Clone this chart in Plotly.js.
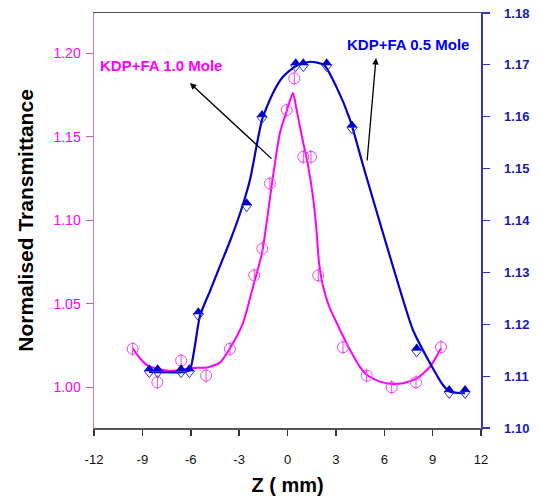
<!DOCTYPE html>
<html>
<head>
<meta charset="utf-8">
<script src="https://cdn.plot.ly/plotly-3.0.1.min.js"></script>
<style>html,body{margin:0;padding:0;background:#fff;}#chart{width:538px;height:502px;}</style>
</head>
<body>
<div id="chart"></div>
<script>
// KDP+FA 1.0 Mole (left axis) - measured points
const zMag = [-9.60,-8.07,-6.60,-5.05,-3.57,-2.06,-1.56,-1.09,-0.05,0.42,0.98,1.46,1.91,3.44,4.91,6.46,7.97,9.52];
const tMag = [1.023,1.003,1.016,1.007,1.023,1.067,1.083,1.122,1.166,1.185,1.138,1.138,1.067,1.024,1.007,1.000,1.003,1.024];
// KDP+FA 1.0 Mole - fitted curve
const zMagFit = [-9.60,-9.15,-8.65,-7.29,-5.86,-4.99,-4.19,-3.57,-2.76,-2.14,-1.58,-1.27,-0.96,-0.47,-0.03,0.34,0.59,0.90,1.27,1.58,1.77,1.95,2.20,2.57,3.26,3.88,4.50,4.93,5.74,6.48,7.16,8.03,8.84,9.52];
const tMagFit = [1.0234,1.0174,1.0128,1.0098,1.0116,1.0119,1.0148,1.0234,1.0385,1.0601,1.0804,1.1002,1.1223,1.1523,1.1660,1.1762,1.1649,1.1499,1.1331,1.1140,1.0972,1.0750,1.0606,1.0487,1.0343,1.0223,1.0121,1.0074,1.0034,1.0020,1.0024,1.0054,1.0123,1.0234];

// KDP+FA 0.5 Mole (right axis) - measured points
const zBlue = [-8.57,-8.05,-6.60,-6.09,-5.53,-2.53,-1.58,0.51,0.98,2.43,4.00,8.01,10.03,11.01];
const tBlue = [1.111,1.111,1.111,1.111,1.122,1.143,1.160,1.170,1.170,1.170,1.158,1.115,1.107,1.107];
// KDP+FA 0.5 Mole - fitted curve
const zBlueFit = [-8.59,-6.35,-6.05,-5.43,-4.81,-4.19,-3.57,-2.95,-2.33,-1.58,-0.90,-0.28,0.53,1.40,2.26,3.01,3.88,4.68,5.92,6.98,7.78,8.84,9.64,10.08,11.01];
const tBlueFit = [1.1108,1.1108,1.1112,1.1216,1.1264,1.1312,1.1360,1.1413,1.1478,1.1594,1.1646,1.1677,1.1698,1.1706,1.1700,1.1659,1.1594,1.1507,1.1376,1.1266,1.1189,1.1125,1.1083,1.1070,1.1067];

const xTicks = [-12,-9,-6,-3,0,3,6,9,12];
const leftTicks = [1.00,1.05,1.10,1.15,1.20];
const rightTicks = [1.10,1.11,1.12,1.13,1.14,1.15,1.16,1.17,1.18];

const labelMag = 'KDP+FA 1.0 Mole';
const labelBlue = 'KDP+FA 0.5 Mole';

const FONT = 'Liberation Sans, Arial, sans-serif';
const MAG = '#ff00ff';
const BLUE = '#0000cc';

const traces = [
  {x: zMagFit, y: tMagFit, type: 'scatter', mode: 'lines', yaxis: 'y',
   line: {color: MAG, width: 2, shape: 'spline', smoothing: 0.6}, hoverinfo: 'skip', showlegend: false},
  {x: zBlueFit, y: tBlueFit, type: 'scatter', mode: 'lines', yaxis: 'y2',
   line: {color: BLUE, width: 2.2, shape: 'spline', smoothing: 0.6}, hoverinfo: 'skip', showlegend: false},
  {x: zMag, y: tMag, type: 'scatter', mode: 'markers', yaxis: 'y', name: labelMag,
   marker: {symbol: 'circle-open', size: 11, color: '#ee44ee', line: {width: 1, color: '#ee44ee'}}, showlegend: false},
  {x: zMag, y: tMag, type: 'scatter', mode: 'markers', yaxis: 'y', name: labelMag,
   marker: {symbol: 'line-ns-open', size: 10, color: '#ee44ee', line: {width: 1, color: '#ee44ee'}}, showlegend: false},
  {x: zBlue, y: tBlue, type: 'scatter', mode: 'markers', yaxis: 'y2', name: labelBlue,
   marker: {symbol: 'triangle-down-open', size: 9, angle: 0, standoff: 2.25, color: '#3333dd', line: {width: 1, color: '#3333dd'}}, showlegend: false},
  {x: zBlue, y: tBlue, type: 'scatter', mode: 'markers', yaxis: 'y2', name: labelBlue,
   marker: {symbol: 'triangle-down', size: 9, angle: 180, standoff: 2.25, color: BLUE, line: {width: 0}}, showlegend: false}
];

const layout = {
  width: 538, height: 502,
  margin: {l: 94, r: 57, t: 13, b: 74},
  paper_bgcolor: '#fff', plot_bgcolor: '#fff',
  font: {family: FONT, size: 13, color: '#000'},
  showlegend: false,
  xaxis: {
    range: [-12, 12], tickvals: xTicks, ticktext: xTicks.map(String),
    showgrid: false, zeroline: false, showline: true, linecolor: '#555', linewidth: 1.5, mirror: true,
    ticks: 'outside', ticklen: 6, tickcolor: '#333', tickwidth: 1.5,
    ticklabelstandoff: 13,
    tickfont: {family: FONT, size: 13, color: '#111'},
    title: {text: 'Z ( mm)', font: {family: FONT, size: 20, color: '#000', weight: 'bold'}, standoff: 12}
  },
  yaxis: {
    range: [0.97563, 1.22413], tickvals: leftTicks, ticktext: leftTicks.map(v => v.toFixed(2)),
    showgrid: false, zeroline: false, showline: true, linecolor: '#cc77cc', linewidth: 1.5,
    ticks: 'outside', ticklen: 7, tickcolor: '#cc55cc', tickwidth: 1.2,
    ticklabelstandoff: 2,
    tickfont: {family: FONT, size: 14, color: MAG},
    title: {text: 'Normalised Transmittance', font: {family: FONT, size: 21, color: '#000', weight: 'bold'}, standoff: 14}
  },
  yaxis2: {
    overlaying: 'y', side: 'right',
    range: [1.10, 1.18], tickvals: rightTicks, ticktext: rightTicks.map(v => v.toFixed(2)),
    showgrid: false, zeroline: false, showline: true, linecolor: '#3333cc', linewidth: 1.5,
    ticks: 'outside', ticklen: 7, tickcolor: '#3333cc', tickwidth: 1.2,
    ticklabelstandoff: 12,
    tickfont: {family: FONT, size: 13, color: '#1a1aaa', weight: 'bold'}
  },
  annotations: [
    {x: -11.75, y: 1.1924, xref: 'x', yref: 'y', text: labelMag, showarrow: false,
     xanchor: 'left', yanchor: 'middle', font: {family: FONT, size: 15, color: MAG, weight: 'bold'}},
    {x: 3.57, y: 1.205, xref: 'x', yref: 'y', text: labelBlue, showarrow: false,
     xanchor: 'left', yanchor: 'middle', font: {family: FONT, size: 15, color: '#0000ee', weight: 'bold'}},
    {x: -6.05, y: 1.1822, xref: 'x', yref: 'y', ax: -0.90, ay: 1.1361, axref: 'x', ayref: 'y',
     showarrow: true, arrowhead: 2, arrowsize: 1, arrowwidth: 1.3, arrowcolor: '#000', text: ''},
    {x: 5.49, y: 1.1972, xref: 'x', yref: 'y', ax: 4.93, ay: 1.1349, axref: 'x', ayref: 'y',
     showarrow: true, arrowhead: 2, arrowsize: 1, arrowwidth: 1.3, arrowcolor: '#000', text: ''}
  ]
};

Plotly.newPlot('chart', traces, layout, {displayModeBar: false, staticPlot: true});
</script>
</body>
</html>
